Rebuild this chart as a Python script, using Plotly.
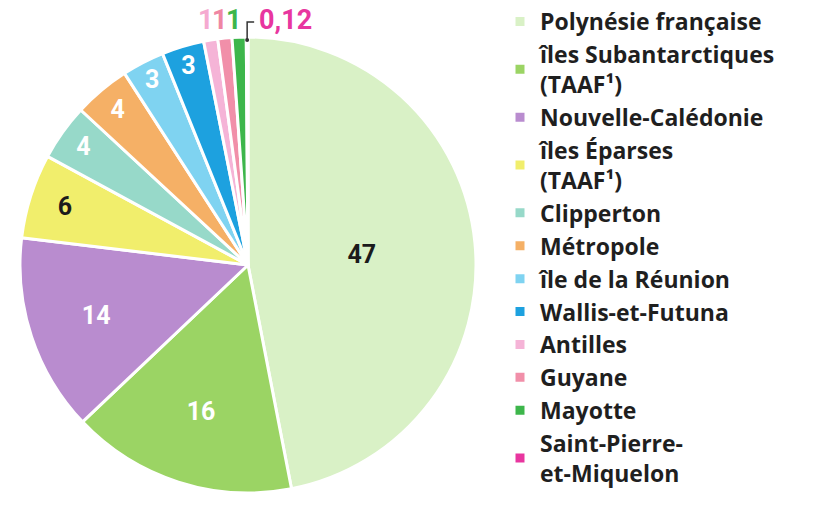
import math
import plotly.graph_objects as go

LABELS = [
    "Polynésie française",
    "îles Subantarctiques<br>(TAAF¹)",
    "Nouvelle-Calédonie",
    "îles Éparses<br>(TAAF¹)",
    "Clipperton",
    "Métropole",
    "île de la Réunion",
    "Wallis-et-Futuna",
    "Antilles",
    "Guyane",
    "Mayotte",
    "Saint-Pierre-<br>et-Miquelon",
]
VALUES = [47, 16, 14, 6, 4, 4, 3, 3, 1, 1, 1, 0.12]
VALUE_TEXT = ["47", "16", "14", "6", "4", "4", "3", "3", "1", "1", "1", "0,12"]

COLORS = [
    "#d9f1c6", "#9bd464", "#b98ccf", "#f1ee6c", "#97d9c9", "#f5b066",
    "#7fd3f1", "#1da1df", "#f5b4d7", "#f18fa9", "#3db64b", "#e8369f",
]
TEXT_COLORS = [
    "#1b1b1b", "#ffffff", "#ffffff", "#1b1b1b", "#ffffff", "#ffffff",
    "#ffffff", "#ffffff", "#f5a9d0", "#ef86a3", "#3db64b", "#e8369f",
]
SMALL = 1.5  # slices below this get their label outside

FONT = "Roboto"
W, H = 823, 506

inside_text = [t if v > SMALL else "" for t, v in zip(VALUE_TEXT, VALUES)]

fig = go.Figure()
fig.add_trace(go.Pie(
    labels=LABELS,
    values=VALUES,
    text=inside_text,
    textinfo="text",
    sort=False,
    direction="clockwise",
    rotation=0,
    marker=dict(colors=COLORS, line=dict(color="white", width=3)),
    textposition="inside",
    insidetextorientation="horizontal",
    textfont=dict(family=FONT, size=25, color=TEXT_COLORS, weight="bold"),
    hoverinfo="label+value",
    domain=dict(x=[20 / W, 476 / W], y=[13 / H, 469 / H]),
))

# outside labels for the thin slices, placed from the cumulative angles
cx, r = (20 + 476) / 2 / W, 228
total = sum(VALUES)
cum = 0
for v, t, c in zip(VALUES, VALUE_TEXT, TEXT_COLORS):
    mid = (cum + v / 2) / total * 2 * math.pi
    cum += v
    if v > SMALL:
        continue
    x = cx + r * math.sin(mid) / W
    if v < 0.5:
        fig.add_annotation(x=x, y=1 - 20 / H, xref="paper", yref="paper",
                           text=t, showarrow=False, xanchor="left", yanchor="middle",
                           xshift=10,
                           font=dict(family=FONT, size=27, color=c, weight="bold"))
        fig.add_shape(type="path", xref="paper", yref="paper",
                      path=f"M {x},{1 - 40 / H} L {x},{1 - 22 / H} L {x + 7 / W},{1 - 22 / H}",
                      line=dict(color="#333333", width=1.5))
        fig.add_shape(type="circle", xref="paper", yref="paper",
                      x0=x - 2 / W, x1=x + 2 / W, y0=1 - 42 / H, y1=1 - 38 / H,
                      fillcolor="#333333", line=dict(width=0))
    else:
        fig.add_annotation(x=x, y=1 - 20 / H, xref="paper", yref="paper",
                           text=t, showarrow=False, xanchor="center", yanchor="middle",
                           xshift=-5,
                           font=dict(family=FONT, size=27, color=c, weight="bold"))

fig.update_layout(
    width=W,
    height=H,
    margin=dict(l=0, r=0, t=0, b=0),
    paper_bgcolor="white",
    plot_bgcolor="white",
    showlegend=True,
    legend=dict(
        x=500 / W, y=1, xanchor="left", yanchor="top",
        font=dict(family="Open Sans", size=23, color="#1f1f1f", weight="bold"),
        itemwidth=30,
        bgcolor="rgba(0,0,0,0)",
    ),
)

fig.write_html("out.html", config={"displayModeBar": False},
               post_script="document.body.style.margin='0';")
